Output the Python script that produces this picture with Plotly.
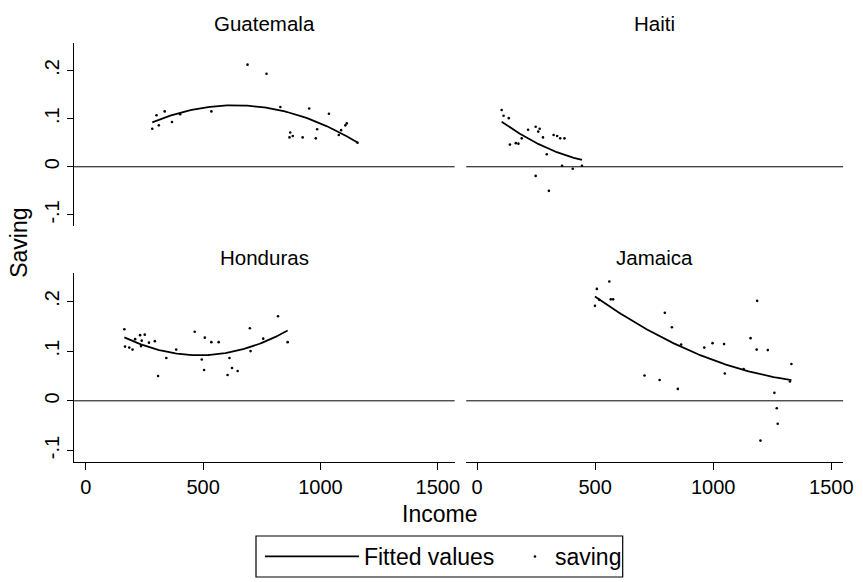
import numpy as np
import plotly.graph_objects as go

# Income / saving observations per country
guatemala_income = [283, 301, 311, 336, 367, 402, 535, 689, 770, 829, 868, 871, 882,
                    924, 952, 980, 986, 1036, 1078, 1088, 1106, 1112, 1158]
guatemala_saving = [0.079, 0.107, 0.086, 0.115, 0.093, 0.109, 0.115, 0.212, 0.193, 0.124,
                    0.061, 0.071, 0.064, 0.061, 0.121, 0.059, 0.078, 0.110, 0.066, 0.076,
                    0.086, 0.090, 0.050]

haiti_income = [104, 112, 134, 139, 164, 175, 189, 216, 248, 248, 259, 265, 279, 295,
                304, 324, 339, 352, 360, 370, 405, 444]
haiti_saving = [0.118, 0.106, 0.101, 0.046, 0.049, 0.048, 0.059, 0.077, 0.083, -0.019,
                0.073, 0.079, 0.061, 0.026, -0.050, 0.066, 0.064, 0.059, 0.002, 0.059,
                -0.004, 0.002]

honduras_income = [164, 167, 185, 199, 210, 231, 235, 238, 251, 269, 294, 308, 343, 385,
                   464, 494, 504, 507, 535, 566, 604, 612, 623, 647, 699, 702, 756, 819, 860]
honduras_saving = [0.144, 0.109, 0.107, 0.103, 0.124, 0.132, 0.110, 0.121, 0.133, 0.117,
                   0.120, 0.050, 0.086, 0.103, 0.139, 0.083, 0.062, 0.127, 0.118, 0.118,
                   0.052, 0.086, 0.066, 0.060, 0.146, 0.100, 0.125, 0.170, 0.118]

jamaica_income = [499, 507, 517, 560, 566, 576, 709, 773, 795, 825, 850, 864, 962, 997,
                  1046, 1049, 1129, 1158, 1184, 1186, 1200, 1231, 1259, 1269, 1273, 1325, 1331]
jamaica_saving = [0.191, 0.225, 0.203, 0.240, 0.204, 0.204, 0.051, 0.042, 0.177, 0.148,
                  0.024, 0.113, 0.107, 0.116, 0.114, 0.055, 0.064, 0.126, 0.103, 0.201,
                  -0.080, 0.102, 0.016, -0.015, -0.046, 0.039, 0.074]

countries = ["Guatemala", "Haiti", "Honduras", "Jamaica"]
incomes = [guatemala_income, haiti_income, honduras_income, jamaica_income]
savings = [guatemala_saving, haiti_saving, honduras_saving, jamaica_saving]

x_ticks = [0, 500, 1000, 1500]
y_ticks = [-0.1, 0, 0.1, 0.2]
y_tick_text = ["-.1", "0", ".1", ".2"]

W, H = 863, 582
FONT = "Liberation Sans, Arial, sans-serif"

# panel geometry (pixels from top-left)
col_px = [(75, 460), (471.7, 853)]
row_px = [(43, 226), (273, 462)]
title_gap = [19, 16]
x_ranges = [[-50, 1572], [-46, 1550]]
y_range = [-0.123, 0.257]

fig = go.Figure()

for i, (name, inc, sav) in enumerate(zip(countries, incomes, savings)):
    r, c = divmod(i, 2)
    n = i + 1
    xa = "x" if n == 1 else f"x{n}"
    ya = "y" if n == 1 else f"y{n}"

    # quadratic fit of saving on income
    inc_arr = np.array(inc, dtype=float)
    sav_arr = np.array(sav, dtype=float)
    coef = np.polyfit(inc_arr, sav_arr, 2)
    grid = np.linspace(inc_arr.min(), inc_arr.max(), 100)
    fig.add_trace(go.Scatter(
        x=grid, y=np.polyval(coef, grid), mode="lines",
        line=dict(color="black", width=1.8), name="Fitted values",
        showlegend=(i == 0), legend="legend", xaxis=xa, yaxis=ya))
    fig.add_trace(go.Scatter(
        x=inc, y=sav, mode="markers",
        marker=dict(color="black", size=2.6), name="saving",
        showlegend=(i == 0), legend="legend2", xaxis=xa, yaxis=ya))

    x0, x1 = col_px[c]
    y0, y1 = row_px[r]
    xkey = "xaxis" if n == 1 else f"xaxis{n}"
    ykey = "yaxis" if n == 1 else f"yaxis{n}"
    bottom = r == 1
    left = c == 0
    fig.update_layout(**{
        xkey: dict(domain=[x0 / W, x1 / W], range=x_ranges[c], anchor=ya,
                   showgrid=False, zeroline=False,
                   showline=bottom, linecolor="black", linewidth=1,
                   ticks="outside" if bottom else "", ticklen=7, tickcolor="black",
                   tickvals=x_ticks, showticklabels=bottom,
                   tickfont=dict(family=FONT, size=20, color="black")),
        ykey: dict(domain=[1 - y1 / H, 1 - y0 / H], range=y_range, anchor=xa,
                   showgrid=False, zeroline=False,
                   showline=left, linecolor="black", linewidth=1,
                   ticks="outside" if left else "", ticklen=6, tickcolor="black",
                   tickvals=y_ticks, ticktext=y_tick_text, showticklabels=left,
                   tickangle=-90, ticklabelstandoff=0,
                   tickfont=dict(family=FONT, size=20, color="black")),
    })

    # horizontal reference line at zero
    fig.add_shape(type="line", xref=f"{xa} domain", yref=ya,
                  x0=0, x1=1, y0=0, y1=0, line=dict(color="black", width=1))

    # panel title
    fig.add_annotation(text=name, xref="paper", yref="paper",
                       x=(x0 + x1) / 2 / W, y=1 - (y0 - title_gap[r]) / H,
                       showarrow=False, xanchor="center", yanchor="middle",
                       font=dict(family=FONT, size=20.5, color="black"))

fig.add_annotation(text="Saving", xref="paper", yref="paper", x=19 / W, y=1 - 243 / H,
                   textangle=-90, showarrow=False, xanchor="center", yanchor="middle",
                   font=dict(family=FONT, size=23, color="black"))
fig.add_annotation(text="Income", xref="paper", yref="paper", x=444.5 / W, y=1 - 514 / H,
                   showarrow=False, xanchor="center", yanchor="middle",
                   font=dict(family=FONT, size=23, color="black"))

# legend frame
fig.add_shape(type="rect", xref="paper", yref="paper",
              x0=259 / W, x1=630 / W, y0=1 - 577 / H, y1=1 - 536 / H,
              line=dict(color="black", width=1.2), fillcolor="rgba(0,0,0,0)")

legend_font = dict(family=FONT, size=23, color="black")
fig.update_layout(
    width=W, height=H,
    margin=dict(l=0, r=0, t=0, b=0),
    paper_bgcolor="white", plot_bgcolor="white",
    legend=dict(orientation="h", x=263 / W, y=1 - 556.5 / H, xanchor="left", yanchor="middle",
                itemwidth=94, font=legend_font, bgcolor="rgba(0,0,0,0)", borderwidth=0),
    legend2=dict(orientation="h", x=521 / W, y=1 - 556.5 / H, xanchor="left", yanchor="middle",
                 itemwidth=30, font=legend_font, bgcolor="rgba(0,0,0,0)", borderwidth=0),
)

fig.write_html("out.html")
